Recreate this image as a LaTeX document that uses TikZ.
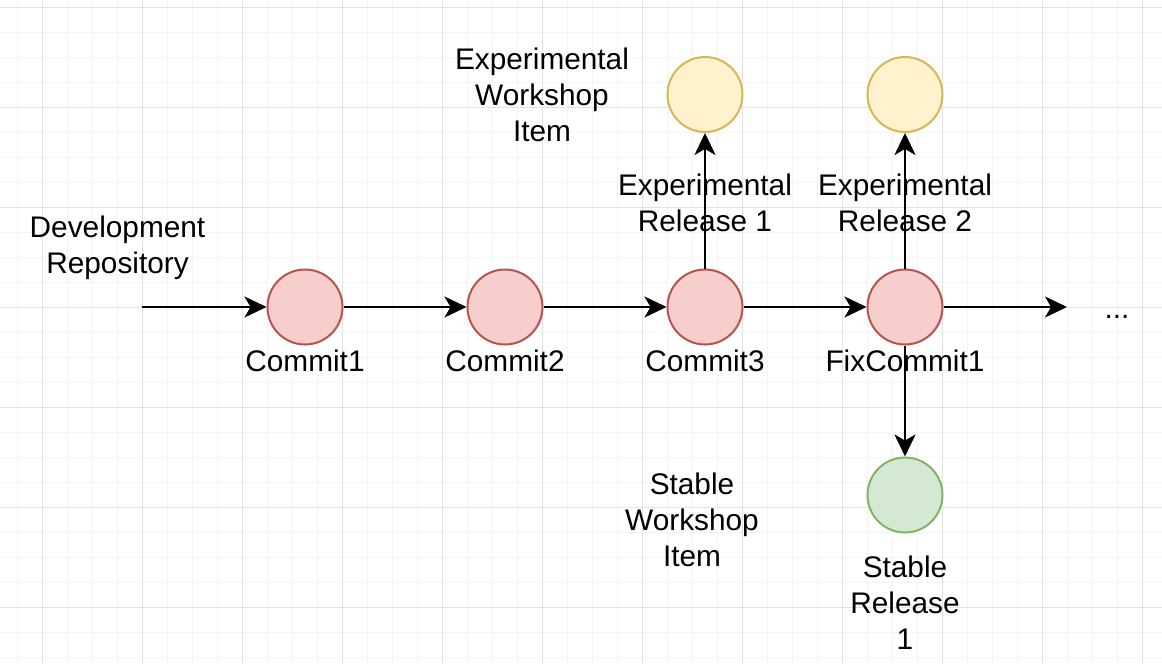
\documentclass[tikz,border=0pt]{standalone}
\usepackage{fontspec}
\setmainfont{Liberation Sans}
\usetikzlibrary{arrows.meta}
\definecolor{pinkfill}{HTML}{F8CECC}
\definecolor{pinkline}{HTML}{B85450}
\definecolor{yelfill}{HTML}{FFF2CC}
\definecolor{yelline}{HTML}{D6B656}
\definecolor{grnfill}{HTML}{D5E8D4}
\definecolor{grnline}{HTML}{82B366}
\definecolor{gridminor}{HTML}{F4F4F4}
\definecolor{gridmajor}{HTML}{E2E2E2}
\tikzset{
  dot/.style={circle, draw, line width=2pt, minimum size=75pt, inner sep=0pt},
  commit/.style={dot, fill=pinkfill, draw=pinkline},
  expdot/.style={dot, fill=yelfill, draw=yelline},
  stabdot/.style={dot, fill=grnfill, draw=grnline},
  lbl/.style={align=center, anchor=base, inner sep=0pt, font=\fontsize{29.8}{36}\selectfont},
  conn/.style={line width=2pt, -{Stealth[length=22pt, width=21pt, inset=6pt]}},
}
\begin{document}
\begin{tikzpicture}[x=1pt, y=-1pt]
\useasboundingbox (0,0) rectangle (1162,664);
\fill[white] (0,0) rectangle (1162,664);
% grid
\foreach \i in {0,...,46} {\draw[gridminor, line width=1pt] ({17.5+25*\i},0) -- ({17.5+25*\i},664);}
\foreach \i in {0,...,26} {\draw[gridminor, line width=1pt] (0,{7.3+25*\i}) -- (1162,{7.3+25*\i});}
\foreach \i in {0,...,11} {\draw[gridmajor, line width=1pt] ({42.5+100*\i},0) -- ({42.5+100*\i},664);}
\foreach \i in {0,...,6} {\draw[gridmajor, line width=1pt] (0,{7.3+100*\i}) -- (1162,{7.3+100*\i});}

% circles
\node[commit] (c1) at (305,307) {};
\node[commit] (c2) at (505,307) {};
\node[commit] (c3) at (705,307) {};
\node[commit] (f1) at (905,307) {};
\node[expdot] (e1) at (705,94.5) {};
\node[expdot] (e2) at (905,94.5) {};
\node[stabdot] (s1) at (905,495) {};
\coordinate (start) at (142,307);
\coordinate (stop) at (1067,307);

% connectors
\draw[conn] (start) -- (c1);
\draw[conn] (c1) -- (c2);
\draw[conn] (c2) -- (c3);
\draw[conn] (c3) -- (f1);
\draw[conn] (f1) -- (stop);
\draw[conn] (c3) -- (e1);
\draw[conn] (f1) -- (e2);
\draw[conn] (f1) -- (s1);

% labels (anchor = baseline of the last line)
\node[lbl] (ldev) at (117.5,273) {Development\\Repository};
\node[lbl] (lc1) at (305,371) {Commit1};
\node[lbl] (lc2) at (505,371) {Commit2};
\node[lbl] (lc3) at (705,371) {Commit3};
\node[lbl] (lf1) at (905,371) {FixCommit1};
\node[lbl] (ler1) at (705,231) {Experimental\\Release 1};
\node[lbl] (ler2) at (905,231) {Experimental\\Release 2};
\node[lbl] (lewi) at (542,141) {Experimental\\Workshop\\Item};
\node[lbl] (lswi) at (692,566.5) {Stable\\Workshop\\Item};
\node[lbl] (lsr1) at (905,649) {Stable\\Release\\1};
\node[lbl] (ldots) at (1117,318) {...};
\end{tikzpicture}
\end{document}
